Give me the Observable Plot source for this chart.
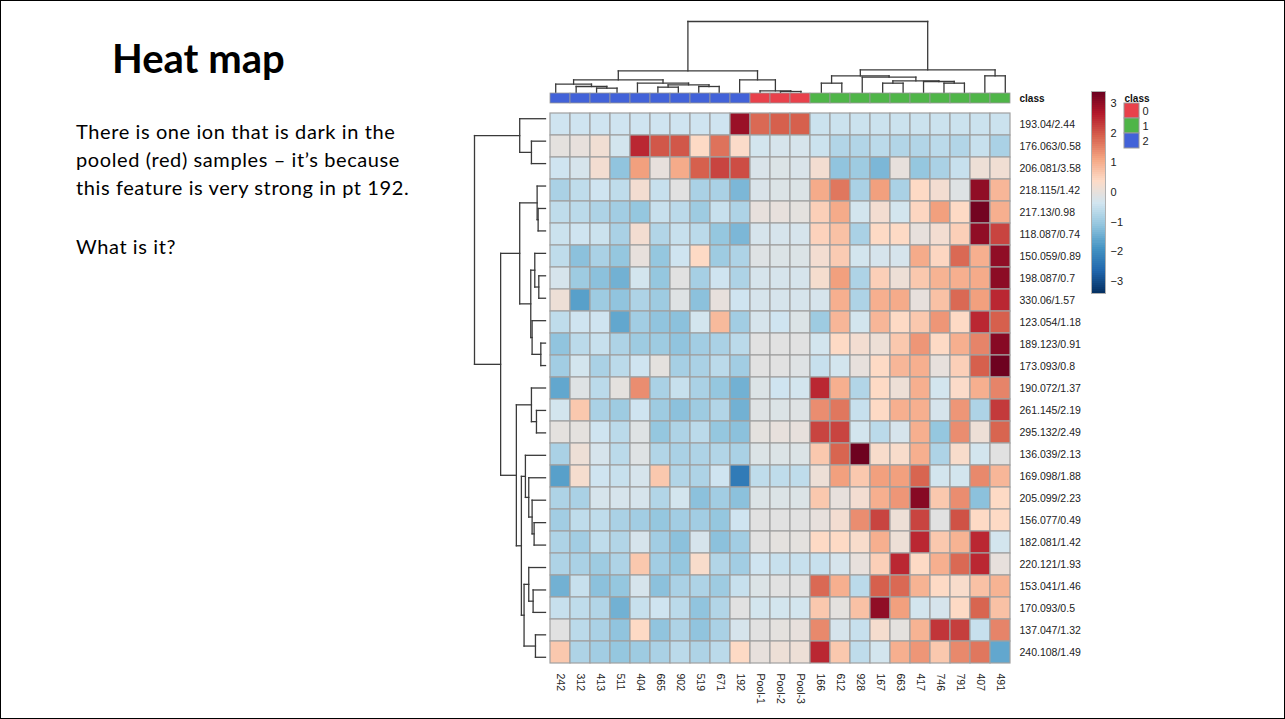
<!DOCTYPE html>
<html>
<head>
<meta charset="utf-8">
<script src="https://cdn.jsdelivr.net/npm/d3@7"></script>
<script src="https://cdn.jsdelivr.net/npm/@observablehq/plot@0.6"></script>
<style>
html,body{margin:0;padding:0;background:#fff;}
#slide{position:relative;width:1285px;height:719px;box-sizing:border-box;border:1.5px solid #000;overflow:hidden;background:#fff;}
.abs{position:absolute;}
#title{left:111px;top:37px;font-family:Lato,"Open Sans",sans-serif;font-weight:700;font-size:40px;line-height:1;color:#000;white-space:nowrap;}
.txt{left:75px;font-family:Lato,"Open Sans",sans-serif;font-size:20px;letter-spacing:0.6px;line-height:28px;color:#000;white-space:nowrap;}
</style>
</head>
<body>
<div id="slide">
  <div id="title" class="abs">Heat map</div>
  <div class="abs txt" style="top:116px">There is one ion that is dark in the<br>pooled (red) samples – it’s because<br>this feature is very strong in pt 192.</div>
  <div class="abs txt" style="top:231px">What is it?</div>
  <div id="topdendro" class="abs" style="left:540px;top:15px"></div>
  <div id="classbar" class="abs" style="left:540px;top:88px"></div>
  <div id="leftdendro" class="abs" style="left:468px;top:100px"></div>
  <div id="heat" class="abs" style="left:540px;top:100px"></div>
  <div id="colorbar" class="abs" style="left:1080px;top:85px"></div>
  <div id="classlegend" class="abs" style="left:1118px;top:85px"></div>
</div>
<script>
// ---------- data ----------
const columns = ["242","312","413","511","404","665","902","519","671","192","Pool-1","Pool-2","Pool-3","166","612","928","167","663","417","746","791","407","491"];
const columnClass = ["2","2","2","2","2","2","2","2","2","2","0","0","0","1","1","1","1","1","1","1","1","1","1"];
const rows = ["193.04/2.44","176.063/0.58","206.081/3.58","218.115/1.42","217.13/0.98","118.087/0.74","150.059/0.89","198.087/0.7","330.06/1.57","123.054/1.18","189.123/0.91","173.093/0.8","190.072/1.37","261.145/2.19","295.132/2.49","136.039/2.13","169.098/1.88","205.099/2.23","156.077/0.49","182.081/1.42","220.121/1.93","153.041/1.46","170.093/0.5","137.047/1.32","240.108/1.49"];
const values = [
 [-0.4,-0.4,-0.4,-0.4,-0.4,-0.4,-0.4,-0.4,-0.4,2.9,1.8,1.9,1.9,-0.45,-0.45,-0.45,-0.45,-0.45,-0.45,-0.45,-0.45,-0.45,-0.45],
 [-0.05,0,0.15,-0.35,2.5,2.0,2.0,0.4,1.7,0.35,-0.35,-0.3,-0.3,-0.45,-0.75,-0.75,-0.65,-0.75,-0.75,-0.65,-0.75,-0.5,-0.85],
 [-0.4,-0.3,0.2,-1.15,1.2,0,1.05,1.9,2.2,2.1,-0.25,-0.2,-0.25,0.2,-1.15,-1.0,-1.35,0,-1.1,-0.85,-0.5,0.1,0.15],
 [-0.85,-0.6,-0.4,-0.6,0.2,-0.5,-0.1,-0.85,-0.85,-1.35,-0.25,-0.2,-0.2,1.05,1.65,-0.85,1.2,-0.85,0.4,0.2,-0.15,3.0,0.9],
 [-0.6,-0.65,-0.8,-0.95,-1.1,-0.5,-0.65,-1.0,-0.5,-0.8,0,0,-0.05,0.55,1.05,-0.35,0.2,-0.35,0.45,1.2,0.4,3.3,1.0],
 [-0.45,-0.4,-0.45,-0.85,0.2,-0.75,-0.5,-0.65,-1.1,-1.35,-0.3,-0.3,-0.3,0.5,0.75,-0.85,0.4,0.4,0,0.2,0.55,3.0,2.2],
 [-0.6,-1.2,-0.85,-1.1,0,-1.1,-0.4,0.4,-1.0,-0.8,-0.15,-0.2,-0.2,0.2,0.6,-0.35,-0.3,-0.3,1.05,0.45,1.8,1.0,3.0],
 [-0.3,-1.0,-1.2,-1.45,-0.35,-1.1,-0.1,-0.9,-0.4,-0.8,-0.3,-0.3,-0.3,0.25,1.2,-0.8,0.55,0.1,0.65,0.95,1.0,1.05,3.05],
 [0.1,-1.7,-1.0,-1.15,-0.8,-1.0,-0.15,-1.2,0,-0.4,-0.3,-0.3,-0.3,-0.3,1.0,-0.8,1.0,1.05,0,0.75,1.8,1.2,2.5],
 [-0.6,-0.4,-0.4,-1.6,-0.95,-1.15,-1.2,-0.35,0.85,-0.95,-0.3,-0.4,-0.2,-1.0,0.9,-0.35,0.9,0.4,0.65,1.3,0.4,2.5,1.9],
 [-1.15,-0.65,-0.5,-0.8,-1.0,-1.0,-1.15,-0.95,-0.85,-0.65,-0.1,-0.1,-0.1,-0.35,0.4,0.2,0.1,0.65,1.3,0.4,1.0,1.5,3.1],
 [-0.95,-0.35,-0.85,-0.65,-0.4,-0.05,-0.9,-0.85,-0.65,-0.95,-0.1,-0.1,-0.15,-0.5,-0.35,0,0.4,0.9,1.0,0,0.55,1.9,3.35],
 [-1.6,-0.15,-0.65,-0.05,1.4,-0.85,-0.5,-0.85,-1.1,-1.45,-0.2,-0.4,-0.35,2.5,1.0,-0.75,0.4,0.1,1.0,-0.35,0.35,1.0,1.5],
 [-0.35,0.65,-0.85,-1.0,-0.4,-1.0,-1.2,-1.0,-0.75,-1.45,-0.15,-0.2,-0.15,1.4,1.65,-0.5,0.4,1.0,1.0,-0.3,1.3,-0.8,2.3],
 [-0.05,-0.05,-0.4,-0.65,-0.15,-1.1,-0.8,-0.65,-1.1,-1.2,-0.05,0,0,2.2,2.2,-0.35,-0.65,-0.3,1.0,-1.1,1.4,0.1,1.85],
 [-0.85,0.1,-0.3,-0.65,-0.15,-0.75,-0.85,-0.8,-0.75,-0.85,-0.2,-0.2,-0.2,0.65,1.85,3.35,0.3,0.3,1.0,-0.8,0.3,-0.35,-0.1],
 [-1.7,0.25,-0.4,-0.5,-0.3,0.65,-0.75,-0.8,-0.4,-2.3,-0.6,-0.6,-0.6,0.1,1.2,0.65,1.2,1.2,1.85,-0.35,-0.35,1.45,0.9],
 [-0.8,-0.85,-0.3,-0.3,-0.3,-0.75,-0.35,-1.2,-0.95,-1.2,-0.2,-0.2,-0.2,0.65,0,0.2,1.0,1.3,3.1,0.65,1.4,-1.2,0.4],
 [-0.95,-0.6,-0.6,-0.85,-0.95,-1.1,-0.95,-0.95,-1.1,-0.4,-0.1,-0.1,-0.1,0,0.2,1.4,2.2,0.1,2.2,-0.1,2.05,0.4,0.4],
 [-0.8,-0.95,-0.6,-0.75,-0.3,-0.95,-1.2,-0.3,-1.2,-0.95,-0.1,-0.05,-0.05,0.4,0.4,0.3,1.0,0.1,2.5,0.65,0.95,2.5,-0.35],
 [-0.8,-0.85,-1.0,-0.8,0.65,-0.95,-1.1,0.3,-0.75,-0.95,-0.4,-0.5,-0.5,-0.5,-0.3,0,0.55,2.5,0.4,1.0,1.8,2.5,0],
 [-1.45,-0.5,-1.2,-1.1,-0.3,-1.2,-0.85,-0.8,-1.0,-0.5,-0.2,-0.1,-0.1,1.8,1.0,-0.65,1.9,1.8,0.95,0.4,0.3,0.75,0.95],
 [-0.5,-0.6,-0.75,-1.45,-0.5,-0.4,-0.65,-1.15,-0.75,-0.1,-0.35,-0.35,-0.35,0.65,-0.05,0.75,3.0,1.2,-0.35,-0.3,0.4,1.85,0.75],
 [-0.1,-0.65,-0.85,-1.15,0.4,-1.15,-0.8,-1.15,-0.85,-0.3,-0.1,-0.05,0,1.45,-0.3,-0.5,0.25,-0.05,0.95,2.35,2.25,-0.5,1.5],
 [0.65,-0.8,-0.95,-1.1,-1.0,-0.85,-0.65,-0.8,-0.65,0.4,0,0.1,0.1,2.5,0.65,-0.6,-0.35,1.0,1.3,0.65,1.45,1.65,-1.6]
];
// hierarchical clustering merges: [childA, childB, height]; ids < n are leaves, n+k is merge k
const colLinkage = [
 [2,3,13],[1,23,18],[0,24,25],[5,6,16],[7,8,18],[26,27,23],[4,28,28],[25,29,38],
 [11,12,3],[10,31,5],[9,32,38],[30,33,65],
 [13,14,28],[16,17,28],[19,20,28],[18,37,33],[36,38,35],[15,39,46],[35,40,50],[21,22,50],[41,42,68],
 [34,43,213]
];
const rowLinkage = [
 [1,2,42],[0,25,77],
 [4,5,22],[3,27,25],[7,8,20],[6,29,32],[10,11,14],[9,31,40],[30,32,44],[28,33,77],
 [13,14,27],[12,35,42],
 [18,19,34],[17,37,40],[16,38,50],[15,39,60],
 [21,22,37],[20,41,50],[23,24,30],[42,43,64],
 [40,44,72],[36,45,87],[34,46,134],[26,47,212]
];
const classNames = ["0","1","2"];
const classColors = ["#e8414b","#4fb548","#4262d8"];
const colorStops = [-3.42,-2.66,-1.9,-1.14,-0.38,0.38,1.14,1.9,2.66,3.42];
const palette = ["#053061","#2166ac","#4393c3","#92c5de","#d1e5f0","#fddbc7","#f4a582","#d6604d","#b2182b","#67001f"];
const legendTicks = [-3,-2,-1,0,1,2,3];

// ---------- helpers ----------
const font = "'Liberation Sans', Arial, Helvetica, sans-serif";
const colorScale = {type: "linear", domain: colorStops, range: palette, interpolate: "rgb", clamp: true};

function dendroSegments(linkage, n) {
  const pos = d3.range(n).map(i => i + 0.5);
  const hgt = new Array(n).fill(0);
  const segs = [];
  for (const [a, b, h] of linkage) {
    segs.push({p1: pos[a], h1: hgt[a], p2: pos[a], h2: h});
    segs.push({p1: pos[b], h1: hgt[b], p2: pos[b], h2: h});
    segs.push({p1: pos[a], h1: h, p2: pos[b], h2: h});
    pos.push((pos[a] + pos[b]) / 2);
    hgt.push(h);
  }
  return segs;
}

const cells = rows.flatMap((r, i) => columns.map((c, j) => ({row: r, col: c, value: values[i][j]})));

// ---------- heatmap ----------
const heat = Plot.plot({
  width: 560, height: 619,
  marginLeft: 4, marginRight: 86, marginTop: 6, marginBottom: 52,
  x: {domain: columns, padding: 0, axis: null, label: null},
  y: {domain: rows, padding: 0, axis: null, label: null},
  color: colorScale,
  style: {fontFamily: font, fontSize: "10.5px", color: "#222", background: "transparent"},
  marks: [
    Plot.cell(cells, {x: "col", y: "row", fill: "value", stroke: "#a0a0a0", strokeWidth: 1.2}),
    Plot.axisY({anchor: "right", tickSize: 0, tickPadding: 4, label: null, fontSize: 10.5}),
    Plot.axisX({anchor: "bottom", tickSize: 0, tickPadding: 5, tickRotate: 90, label: null, fontSize: 10.5})
  ]
});
document.getElementById("heat").appendChild(heat);

// ---------- class annotation bar ----------
const classCells = columns.map((c, j) => ({col: c, cls: columnClass[j]}));
const classbar = Plot.plot({
  width: 560, height: 18,
  marginLeft: 4, marginRight: 86, marginTop: 4, marginBottom: 4,
  x: {domain: columns, padding: 0, axis: null},
  y: {domain: ["class"], padding: 0, axis: null},
  color: {type: "ordinal", domain: classNames, range: classColors},
  style: {fontFamily: font, background: "transparent"},
  marks: [
    Plot.cell(classCells, {x: "col", y: () => "class", fill: "cls", stroke: "#9a9a9a", strokeWidth: 0.8}),
    Plot.text(["class"], {frameAnchor: "right", dx: 4, textAnchor: "start", fontWeight: "bold", fontSize: 10, fill: "#111"})
  ]
});
document.getElementById("classbar").appendChild(classbar);

// ---------- dendrograms ----------
const colSegs = dendroSegments(colLinkage, columns.length);
const topDendro = Plot.plot({
  width: 480, height: 77,
  marginLeft: 4, marginRight: 6, marginTop: 5, marginBottom: 1,
  x: {domain: [0, columns.length], axis: null},
  y: {domain: [0, 213], axis: null},
  style: {background: "transparent"},
  marks: [
    Plot.link(colSegs, {x1: "p1", y1: "h1", x2: "p2", y2: "h2", stroke: "#3a3a3a", strokeWidth: 1.3, strokeLinecap: "square"})
  ]
});
document.getElementById("topdendro").appendChild(topDendro);

const rowSegs = dendroSegments(rowLinkage, rows.length);
const leftDendro = Plot.plot({
  width: 80, height: 573,
  marginLeft: 5, marginRight: 4, marginTop: 6, marginBottom: 6,
  x: {domain: [212, 0], axis: null},
  y: {domain: [0, rows.length], reverse: true, axis: null},
  style: {background: "transparent"},
  marks: [
    Plot.link(rowSegs, {x1: "h1", y1: "p1", x2: "h2", y2: "p2", stroke: "#3a3a3a", strokeWidth: 1.3, strokeLinecap: "square"})
  ]
});
document.getElementById("leftdendro").appendChild(leftDendro);

// ---------- colour bar legend ----------
const lo = colorStops[0], hi = colorStops[colorStops.length - 1];
const nSteps = 100;
const ramp = d3.range(nSteps).map(i => ({y1: lo + (hi - lo) * i / nSteps, y2: lo + (hi - lo) * (i + 1) / nSteps}));
const colorbar = Plot.plot({
  width: 50, height: 212,
  marginLeft: 10, marginRight: 26, marginTop: 5, marginBottom: 5,
  x: {domain: [0, 1], axis: null},
  y: {domain: [lo, hi], axis: null},
  color: colorScale,
  style: {fontFamily: font, fontSize: "11px", color: "#222", background: "transparent"},
  marks: [
    Plot.rect(ramp, {x1: 0, x2: 1, y1: "y1", y2: "y2", fill: d => (d.y1 + d.y2) / 2, inset: 0, shapeRendering: "crispEdges"}),
    Plot.frame({stroke: "#b0b0b0", strokeWidth: 1}),
    Plot.axisY(legendTicks, {anchor: "right", tickSize: 0, tickPadding: 5, label: null, fontSize: 11,
      tickFormat: d => (d < 0 ? "\u2212" + Math.abs(d) : String(d))})
  ]
});
document.getElementById("colorbar").appendChild(colorbar);

// ---------- class legend ----------
const classLegend = Plot.plot({
  width: 45, height: 68,
  marginLeft: 5, marginRight: 25, marginTop: 16, marginBottom: 5,
  x: {domain: ["k"], padding: 0, axis: null},
  y: {domain: classNames, padding: 0, axis: null},
  color: {type: "ordinal", domain: classNames, range: classColors},
  style: {fontFamily: font, fontSize: "11px", color: "#222", background: "transparent"},
  marks: [
    Plot.cell(classNames, {x: () => "k", y: d => d, fill: d => d, stroke: "#9a9a9a", strokeWidth: 1}),
    Plot.axisY({anchor: "right", tickSize: 0, tickPadding: 3, label: null, fontSize: 11}),
    Plot.text(["class"], {frameAnchor: "top-left", dy: -8, textAnchor: "start", fontWeight: "bold", fontSize: 10, fill: "#111"})
  ]
});
document.getElementById("classlegend").appendChild(classLegend);
</script>
</body>
</html>
